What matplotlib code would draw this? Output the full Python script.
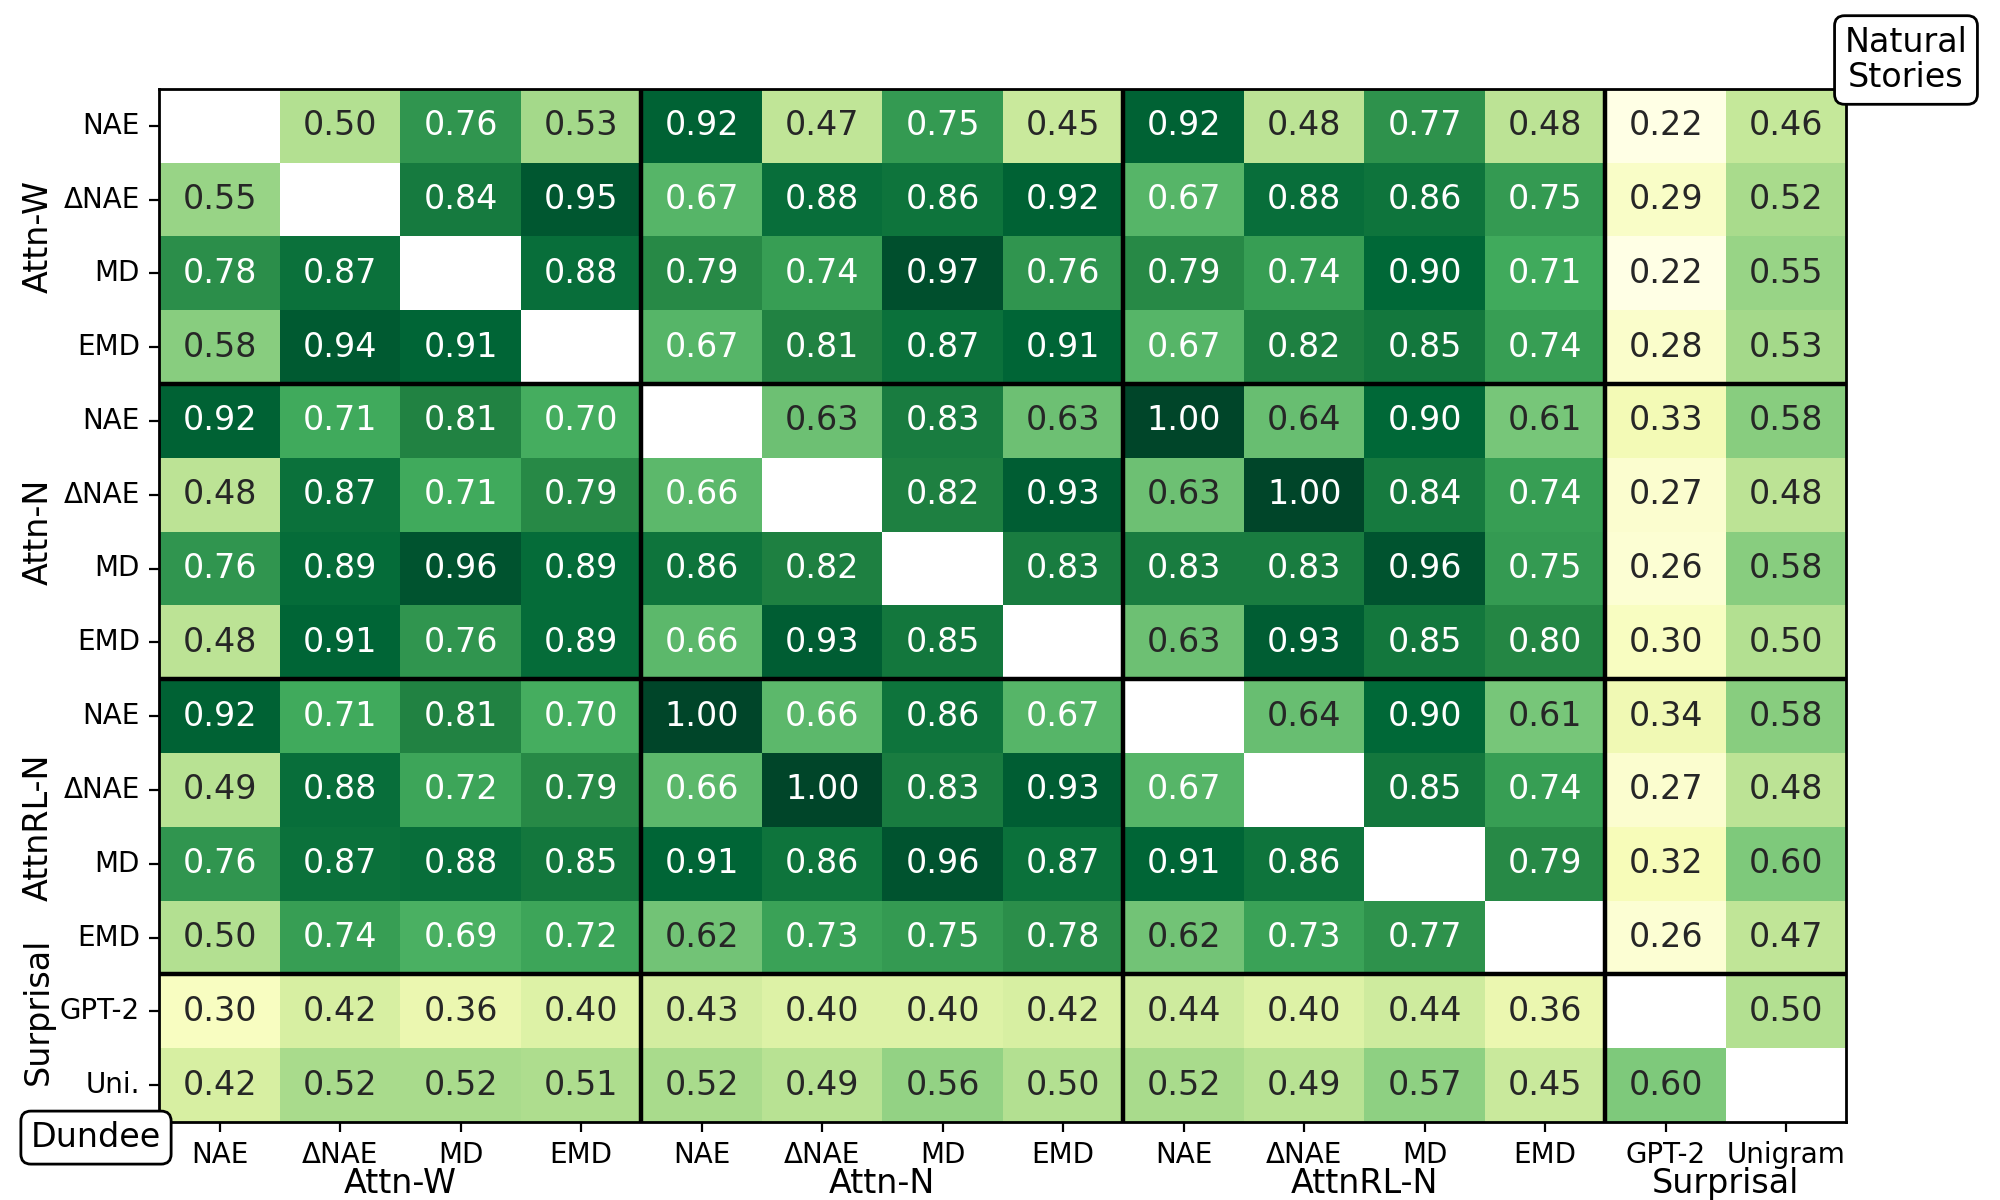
import numpy as np
import matplotlib
matplotlib.use("Agg")
import matplotlib.pyplot as plt
import matplotlib.transforms as mtransforms
import seaborn as sns

# --- data ---
row_labels = ["NAE", "ΔNAE", "MD", "EMD",
              "NAE", "ΔNAE", "MD", "EMD",
              "NAE", "ΔNAE", "MD", "EMD",
              "GPT-2", "Uni."]
col_labels = ["NAE", "ΔNAE", "MD", "EMD",
              "NAE", "ΔNAE", "MD", "EMD",
              "NAE", "ΔNAE", "MD", "EMD",
              "GPT-2", "Unigram"]
groups = ["Attn-W", "Attn-N", "AttnRL-N", "Surprisal"]
nan = np.nan
corr = np.array([
    [nan, .50, .76, .53, .92, .47, .75, .45, .92, .48, .77, .48, .22, .46],
    [.55, nan, .84, .95, .67, .88, .86, .92, .67, .88, .86, .75, .29, .52],
    [.78, .87, nan, .88, .79, .74, .97, .76, .79, .74, .90, .71, .22, .55],
    [.58, .94, .91, nan, .67, .81, .87, .91, .67, .82, .85, .74, .28, .53],
    [.92, .71, .81, .70, nan, .63, .83, .63, 1.00, .64, .90, .61, .33, .58],
    [.48, .87, .71, .79, .66, nan, .82, .93, .63, 1.00, .84, .74, .27, .48],
    [.76, .89, .96, .89, .86, .82, nan, .83, .83, .83, .96, .75, .26, .58],
    [.48, .91, .76, .89, .66, .93, .85, nan, .63, .93, .85, .80, .30, .50],
    [.92, .71, .81, .70, 1.00, .66, .86, .67, nan, .64, .90, .61, .34, .58],
    [.49, .88, .72, .79, .66, 1.00, .83, .93, .67, nan, .85, .74, .27, .48],
    [.76, .87, .88, .85, .91, .86, .96, .87, .91, .86, nan, .79, .32, .60],
    [.50, .74, .69, .72, .62, .73, .75, .78, .62, .73, .77, nan, .26, .47],
    [.30, .42, .36, .40, .43, .40, .40, .42, .44, .40, .44, .36, nan, .50],
    [.42, .52, .52, .51, .52, .49, .56, .50, .52, .49, .57, .45, .60, nan],
])
row_group_pos = [2, 6, 10, 12.5]
col_group_pos = [2, 6, 10, 13]
block_edges = [4, 8, 12]

fig = plt.figure(figsize=(10, 6), dpi=200)
ax = fig.add_axes([0.0797, 0.065, 0.8435, 0.861])

sns.heatmap(corr, mask=np.isnan(corr), cmap="YlGn", annot=True, fmt=".2f",
            annot_kws={"size": 12}, cbar=False, ax=ax,
            xticklabels=col_labels, yticklabels=row_labels)

ax.tick_params(axis="both", labelsize=10)
plt.setp(ax.get_xticklabels(), rotation=0)
plt.setp(ax.get_yticklabels(), rotation=0)

for s in ax.spines.values():
    s.set_visible(True)
    s.set_linewidth(1.0)

# block separators
for e in block_edges:
    ax.axvline(e, color="black", lw=1.6)
    ax.axhline(e, color="black", lw=1.6)

# group labels
trans_y = mtransforms.blended_transform_factory(ax.transAxes, ax.transData)
for g, p in zip(groups, row_group_pos):
    ax.text(-0.072, p, g, transform=trans_y, rotation=90,
            ha="center", va="center", fontsize=12)
trans_x = mtransforms.blended_transform_factory(ax.transData, ax.transAxes)
for g, p in zip(groups, col_group_pos):
    ax.text(p, -0.0685, g, transform=trans_x, ha="center", va="baseline", fontsize=12)

box = dict(boxstyle="round,pad=0.3", fc="white", ec="black", lw=1.0)
fig.text(0.048, 0.052, "Dundee", ha="center", va="center", fontsize=12, bbox=box)
fig.text(0.953, 0.95, "Natural\nStories", ha="center", va="center", fontsize=12,
         bbox=box, linespacing=1.1)

fig.savefig("out.png", dpi=200)
